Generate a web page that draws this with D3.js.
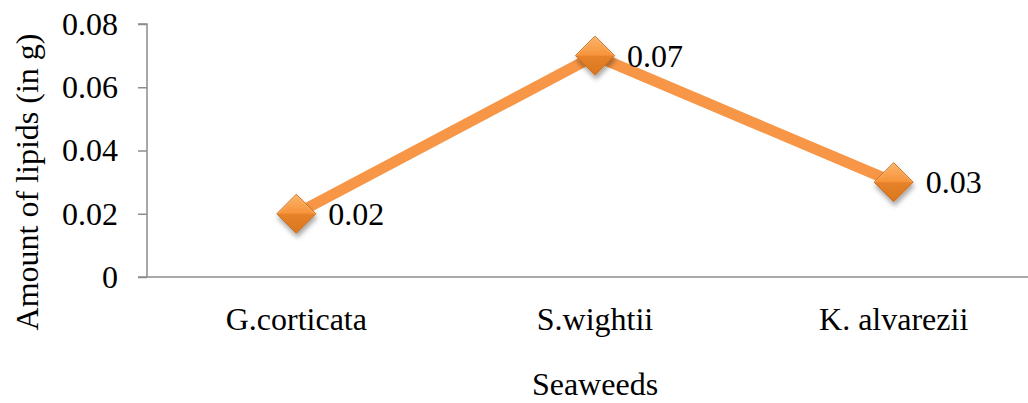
<!DOCTYPE html>
<html>
<head>
<meta charset="utf-8">
<script src="https://cdn.jsdelivr.net/npm/d3@7"></script>
<style>
  body { margin: 0; background: #fff; }
  svg { display: block; font-family: "Liberation Serif", "Times New Roman", serif; }
</style>
</head>
<body>
<svg id="chart" width="1028" height="403"></svg>
<script>
// Lipid content per seaweed species
const categories = ["G.corticata", "S.wightii", "K. alvarezii"];
const lipids = [0.02, 0.07, 0.03];
const yTicks = [0, 0.02, 0.04, 0.06, 0.08];
const yTickLabels = ["0", "0.02", "0.04", "0.06", "0.08"];

const svg = d3.select("#chart");
const plotLeft = 147, plotRight = 1043, plotTop = 24, plotBottom = 277;
const fontSize = 32;

const x = d3.scaleBand().domain(categories).range([plotLeft, plotRight]);
const y = d3.scaleLinear().domain([0, 0.08]).range([plotBottom, plotTop]);

const defs = svg.append("defs");
const grad = defs.append("linearGradient").attr("id", "mk").attr("x1", 0).attr("y1", 0).attr("x2", 0).attr("y2", 1);
grad.append("stop").attr("offset", "0%").attr("stop-color", "#fbb56a");
grad.append("stop").attr("offset", "48%").attr("stop-color", "#f7943c");
grad.append("stop").attr("offset", "52%").attr("stop-color", "#e6822a");
grad.append("stop").attr("offset", "100%").attr("stop-color", "#d8771f");
const sh = defs.append("filter").attr("id", "shadow").attr("x", "-50%").attr("y", "-50%").attr("width", "200%").attr("height", "200%");
sh.append("feDropShadow").attr("dx", 1).attr("dy", 4).attr("stdDeviation", 2.5).attr("flood-color", "#000").attr("flood-opacity", 0.35);

// Y axis
const yAxis = svg.append("g").attr("transform", `translate(${plotLeft},0)`)
  .call(d3.axisLeft(y).tickValues(yTicks).tickFormat((d, i) => yTickLabels[i]).tickSize(9).tickPadding(20));
yAxis.select(".domain").attr("stroke", "#8c8c8c").attr("stroke-width", 1.5).attr("d", `M-9,${plotTop}H0V${plotBottom}`);
yAxis.selectAll(".tick line").attr("stroke", "#8c8c8c").attr("stroke-width", 1.5);
yAxis.selectAll(".tick text").attr("font-size", fontSize).attr("fill", "#000").attr("font-family", "Liberation Serif");

// X axis
const xAxis = svg.append("g").attr("transform", `translate(0,${plotBottom})`)
  .call(d3.axisBottom(x).tickSize(0).tickPadding(30));
xAxis.select(".domain").attr("stroke", "#8c8c8c").attr("stroke-width", 1.5).attr("d", `M${plotLeft - 9},0H${plotRight}`);
xAxis.selectAll(".tick text").attr("font-size", fontSize).attr("fill", "#000").attr("font-family", "Liberation Serif");

// Axis titles
svg.append("text").attr("x", x("S.wightii") + x.bandwidth() / 2).attr("y", 395)
  .attr("text-anchor", "middle").attr("font-size", fontSize).text("Seaweeds");
svg.append("text").attr("transform", "translate(38,182) rotate(-90)")
  .attr("text-anchor", "middle").attr("font-size", fontSize).text("Amount of lipids (in g)");

// Line
const pts = categories.map((c, i) => [x(c) + x.bandwidth() / 2, y(lipids[i])]);
svg.append("path").attr("d", d3.line()(pts)).attr("fill", "none")
  .attr("stroke", "#f79646").attr("stroke-width", 11).attr("stroke-linejoin", "round");

// Markers
const r = 19.5;
const mk = svg.append("g").selectAll("g").data(pts).join("g")
  .attr("transform", d => `translate(${d[0]},${d[1]})`);
mk.append("path").attr("d", `M0,${-r}L${r},0L0,${r}L${-r},0Z`)
  .attr("fill", "url(#mk)").attr("stroke", "#c96d1d").attr("stroke-width", 1).attr("filter", "url(#shadow)");
mk.append("path").attr("d", `M${-r + 1},0L0,${-r + 1}L${r - 1},0`).attr("fill", "none").attr("stroke", "#fcc488").attr("stroke-width", 1).attr("opacity", 0.6);

// Value labels
svg.append("g").selectAll("text").data(pts).join("text")
  .attr("x", d => d[0] + 32).attr("y", d => d[1] + 11)
  .attr("font-size", fontSize).text((d, i) => lipids[i].toFixed(2));
</script>
</body>
</html>
